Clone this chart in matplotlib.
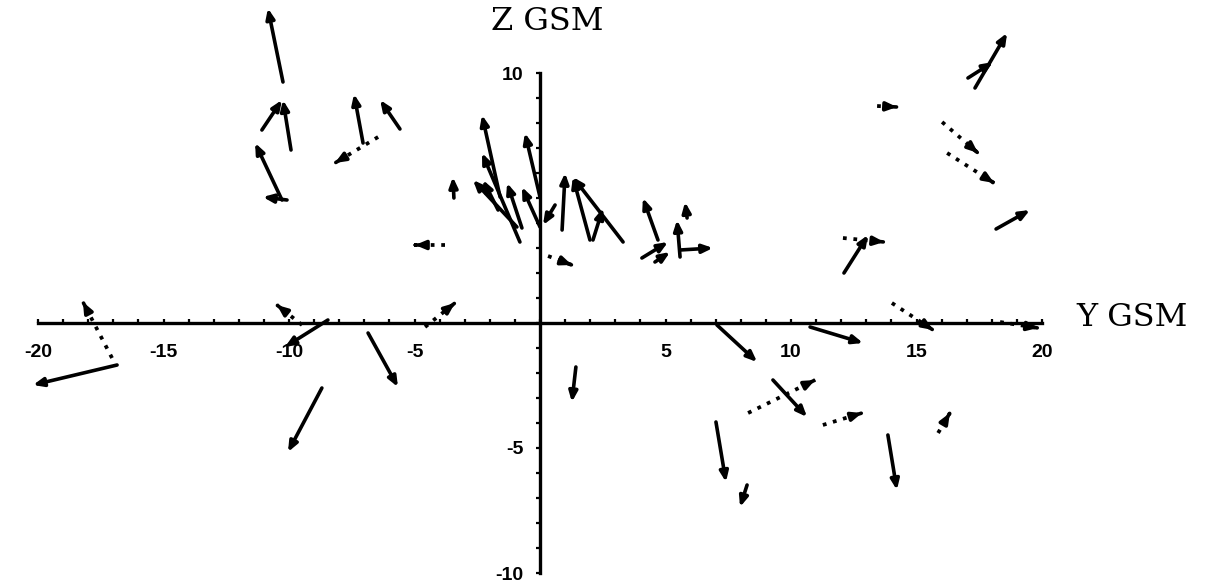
import matplotlib
matplotlib.use("Agg")
import matplotlib.pyplot as plt
import numpy as np

# solid arrows: tail (y, z) -> head (y, z), GSM coordinates in Re
solid_tail_y = [-10.24, -11.08, -9.92, -10.28, -10.08, -7.05, -5.58, -3.43, -1.59, -0.80,
                -0.92, -0.72, 0.00, 0.00, -1.67, 0.60, 0.88, 1.99, 3.31, 2.11,
                4.70, 5.86, 5.58, 5.58, 4.06, 4.58, 17.33, 17.05, 18.17, 12.11,
                -16.85, -8.45, -6.85, -8.69, 1.43, 7.05, 10.76, 9.28, 7.01, 8.25, 13.86]
solid_tail_z = [9.64, 7.72, 6.92, 4.92, 4.92, 7.20, 7.76, 5.00, 5.04, 3.24,
                3.84, 3.80, 5.04, 3.84, 4.52, 4.72, 3.72, 3.32, 3.24, 3.32,
                3.32, 4.20, 2.64, 2.92, 2.60, 2.44, 9.40, 9.80, 3.76, 2.00,
                -1.68, 0.12, -0.40, -2.60, -1.76, -0.08, -0.16, -2.28, -3.96, -6.48, -4.48]
solid_head_y = [-10.84, -10.28, -10.24, -11.35, -11.04, -7.41, -6.37, -3.47, -2.31, -2.31,
                -2.67, -1.31, -0.60, -0.72, -2.27, 0.12, 1.00, 1.31, 1.31, 2.51,
                4.10, 5.78, 5.46, 6.89, 5.10, 5.18, 18.61, 18.05, 19.52, 13.07,
                -20.20, -10.16, -5.66, -10.04, 1.27, 8.65, 12.87, 10.64, 7.41, 7.97, 14.22]
solid_head_z = [12.59, 8.92, 8.92, 7.20, 5.04, 9.16, 8.92, 5.84, 8.32, 6.80,
                5.72, 5.60, 7.60, 5.44, 5.72, 3.92, 6.00, 5.84, 5.84, 4.60,
                5.00, 4.84, 4.12, 3.00, 3.24, 2.84, 11.60, 10.44, 4.52, 3.52,
                -2.48, -0.96, -2.56, -5.16, -3.16, -1.56, -0.80, -3.76, -6.36, -7.36, -6.68]

# dotted arrows
dot_tail_y = [-6.45, -3.78, 0.32, 13.43, 16.02, 16.22, 12.07, -17.05, -9.48, -4.58,
              14.02, 18.33, 8.29, 11.27, 15.86]
dot_tail_z = [7.44, 3.12, 2.68, 8.68, 8.04, 6.80, 3.40, -1.40, -0.08, -0.16,
              0.80, 0.04, -3.60, -4.08, -4.40]
dot_head_y = [-8.17, -4.98, 1.27, 14.22, 17.45, 18.09, 13.71, -18.21, -10.48, -3.39,
              15.66, 19.84, 10.96, 12.83, 16.33]
dot_head_z = [6.40, 3.12, 2.32, 8.64, 6.80, 5.60, 3.24, 0.84, 0.72, 0.80,
              -0.28, -0.20, -2.28, -3.60, -3.60]

xtick_vals = [-20, -15, -10, -5, 5, 10, 15, 20]
ytick_vals = [10, -5, -10]

fig = plt.figure(figsize=(12.06, 5.86), dpi=100)
ax = fig.add_axes([0, 0, 1, 1])
ax.set_xlim(-540 / 25.1, (1206 - 540) / 25.1)
ax.set_ylim((323 - 586) / 25, 323 / 25)

for s in ["top", "right"]:
    ax.spines[s].set_visible(False)
ax.spines["left"].set_position("zero")
ax.spines["bottom"].set_position("zero")
ax.spines["left"].set_bounds(-10, 10)
ax.spines["bottom"].set_bounds(-20, 20)
ax.spines["left"].set_linewidth(2.4)
ax.spines["bottom"].set_linewidth(2.4)

ax.set_xticks(xtick_vals)
ax.set_xticklabels([str(v) for v in xtick_vals])
ax.set_yticks(ytick_vals)
ax.set_yticklabels([str(v) for v in ytick_vals])
ax.set_xticks(np.arange(-20, 21, 1), minor=True)
ax.set_yticks(np.arange(-10, 11, 1), minor=True)
ax.tick_params(axis="x", which="both", direction="in", length=3, width=1.6, pad=15,
               labelsize=14)
ax.tick_params(axis="y", which="both", direction="out", length=3, width=1.6, pad=9,
               labelsize=14)
for lab in ax.get_xticklabels() + ax.get_yticklabels():
    lab.set_family("Liberation Sans")
    lab.set_fontweight("bold")

head = dict(arrowstyle="-|>,head_length=0.6,head_width=0.25", color="black",
            lw=2.6, shrinkA=0, shrinkB=0, mutation_scale=10)

for ty, tz, hy, hz in zip(solid_tail_y, solid_tail_z, solid_head_y, solid_head_z):
    ax.annotate("", xy=(hy, hz), xytext=(ty, tz), arrowprops=head)

for ty, tz, hy, hz in zip(dot_tail_y, dot_tail_z, dot_head_y, dot_head_z):
    ax.plot([ty, hy], [tz, hz], color="black", lw=2.7, ls=(0, (1.0, 1.8)),
            solid_capstyle="butt")
    ax.annotate("", xy=(hy, hz),
                xytext=(hy - 0.02 * (hy - ty), hz - 0.02 * (hz - tz)),
                arrowprops=head)

ax.text(0.3, 12.05, "Z GSM", family="DejaVu Serif", fontsize=23, ha="center",
        va="center")
ax.text(21.35, 0.2, "Y GSM", family="DejaVu Serif", fontsize=23, ha="left",
        va="center")

fig.savefig("out.png", dpi=100)
